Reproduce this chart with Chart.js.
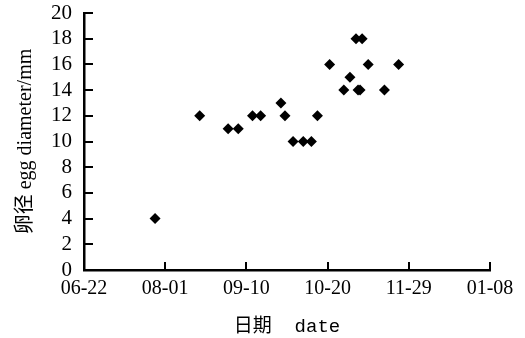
<!DOCTYPE html>
<html>
<head>
<meta charset="utf-8">
<script src="https://cdn.jsdelivr.net/npm/chart.js@4/dist/chart.umd.min.js"></script>
<style>
html,body{margin:0;padding:0;background:#fff;}
#wrap{width:525px;height:338px;}
</style>
</head>
<body>
<div id="wrap"><canvas id="c" width="525" height="338"></canvas></div>
<script>
// sampling dates (month-day), year rolls over after December
const sampleDates = ['07-27','08-18','09-01','09-06','09-13','09-17','09-27','09-29','10-03','10-08','10-12','10-15','10-21','10-28','10-31','11-03','11-06','11-04','11-05','11-09','11-17','11-24'];
const eggDiameter = [4,12,11,11,12,12,13,12,10,10,10,12,16,14,15,18,18,14,14,16,14,16];
const xTickLabels = ['06-22','08-01','09-10','10-20','11-29','01-08'];
const yTicks = [0,2,4,6,8,10,12,14,16,18,20];

function dayOffset(md){
  const [m,d] = md.split('-').map(Number);
  const year = m < 6 ? 2001 : 2000;
  return (Date.UTC(year, m-1, d) - Date.UTC(2000,5,22)) / 86400000;
}
const tickDays = xTickLabels.map(dayOffset);
const points = sampleDates.map((d,i)=>({x: dayOffset(d), y: eggDiameter[i]}));

const innerTicks = {
  id:'innerTicks',
  afterDraw(chart){
    const ctx = chart.ctx, xs = chart.scales.x, ys = chart.scales.y;
    ctx.save();
    ctx.strokeStyle = '#000'; ctx.lineWidth = 2;
    ctx.beginPath();
    tickDays.forEach((v,i)=>{ if(i===0) return; const px = Math.round(xs.getPixelForValue(v)); ctx.moveTo(px, ys.bottom); ctx.lineTo(px, ys.bottom-8); });
    yTicks.forEach(v=>{ if(v===0) return; const py = Math.round(ys.getPixelForValue(v)); ctx.moveTo(xs.left, py); ctx.lineTo(xs.left+9, py); });
    ctx.stroke();
    ctx.restore();
  }
};

new Chart(document.getElementById('c'), {
  type:'scatter',
  data:{datasets:[{data:points, pointStyle:'rectRot', radius:5.5, hoverRadius:5.5, backgroundColor:'#000', borderColor:'#000', borderWidth:0}]},
  options:{
    responsive:false, animation:false, devicePixelRatio:1,
    layout:{padding:{top:13,right:35,left:0,bottom:0}},
    plugins:{legend:{display:false}, tooltip:{enabled:false}},
    scales:{
      x:{type:'linear', min:tickDays[0], max:tickDays[tickDays.length-1],
        afterBuildTicks(s){ s.ticks = tickDays.map(v=>({value:v})); },
        afterFit(s){ s.height = 68; s.paddingLeft = 0; s.paddingRight = 0; },
        grid:{display:false, drawTicks:false},
        border:{display:true, color:'#000', width:2.5},
        ticks:{padding:7, color:'#000', font:{family:"'Liberation Serif','DejaVu Serif',serif", size:20},
          callback(v){ const i = tickDays.indexOf(v); return i>=0 ? xTickLabels[i] : ''; }, maxRotation:0, autoSkip:false},
        title:{display:true, text:'日期  date', color:'#000', padding:{top:6,bottom:0},
          font:{family:"'Liberation Mono','Noto Sans CJK SC',monospace", size:19, weight:'normal'}}
      },
      y:{min:0, max:20,
        afterBuildTicks(s){ s.ticks = yTicks.map(v=>({value:v})); },
        afterFit(s){ s.width = 84; s.paddingTop = 0; s.paddingBottom = 0; },
        grid:{display:false, drawTicks:false},
        border:{display:true, color:'#000', width:2.5},
        ticks:{padding:12, color:'#000', autoSkip:false, font:{family:"'Liberation Serif','DejaVu Serif',serif", size:21}},
        title:{display:true, text:'卵径 egg diameter/mm', color:'#000', padding:{top:14,bottom:0},
          font:{family:"'Liberation Serif','Noto Sans CJK SC',serif", size:20, weight:'normal'}}
      }
    }
  },
  plugins:[innerTicks]
});
</script>
</body>
</html>
